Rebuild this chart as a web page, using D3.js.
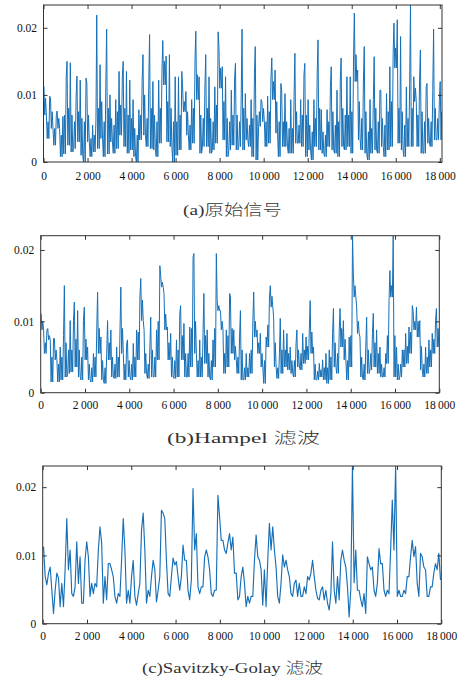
<!DOCTYPE html>
<html><head><meta charset="utf-8">
<script src="https://cdn.jsdelivr.net/npm/d3@7"></script>
<style>body{margin:0;background:#fff}</style>
</head><body>
<svg id="c" width="469" height="679"></svg>
<script>
// samples per envelope bin (each bin: max, min and top of the dense band)
const binSize = 150;
const xTicks = [0,2000,4000,6000,8000,10000,12000,14000,16000,18000];
const yTicks = [0,0.01,0.02];
const captions = ["(a)原始信号", "(b)Hampel 滤波", "(c)Savitzky-Golay 滤波"];

// (a) raw signal
const rawHi = [.0113,.0098,.0095,.0070,.0076,.0068,.0125,.0150,.0148,.0098,
.0128,.0122,.0125,.0118,.0055,.0063,.0219,.0145,.0115,.0198,
.0100,.0093,.0135,.0128,.0150,.0135,.0122,.0093,.0078,.0122,
.0160,.0117,.0190,.0120,.0122,.0137,.0181,.0158,.0160,.0127,
.0127,.0135,.0112,.0105,.0093,.0152,.0195,.0127,.0112,.0160,
.0127,.0112,.0194,.0172,.0142,.0127,.0107,.0125,.0147,.0102,
.0198,.0102,.0093,.0132,.0172,.0093,.0090,.0098,.0125,.0155,
.0137,.0117,.0107,.0102,.0093,.0098,.0162,.0093,.0130,.0147,
.0093,.0093,.0132,.0182,.0078,.0078,.0112,.0142,.0107,.0122,
.0155,.0127,.0127,.0155,.0222,.0137,.0122,.0172,.0093,.0093,
.0157,.0107,.0107,.0102,.0142,.0162,.0207,.0212,.0187,.0112,
.0117,.0234,.0127,.0122,.0167,.0112,.0117,.0107,.0198,.0093,.0120];
const rawLo = [.0070,.0035,.0050,.0025,.0050,.0008,.0012,.0025,.0015,.0020,
.0030,.0010,.0000,.0030,.0008,.0015,.0020,.0035,.0008,.0012,
.0030,.0013,.0020,.0040,.0023,.0013,.0018,.0008,.0000,.0033,
.0040,.0023,.0020,.0018,.0008,.0028,.0115,.0030,.0023,.0000,
.0010,.0018,.0075,.0040,.0018,.0028,.0093,.0013,.0023,.0023,
.0013,.0018,.0028,.0110,.0033,.0008,.0018,.0025,.0018,.0023,
.0018,.0033,.0023,.0008,.0003,.0053,.0060,.0023,.0028,.0093,
.0043,.0008,.0023,.0023,.0013,.0013,.0028,.0028,.0023,.0008,
.0018,.0003,.0023,.0018,.0013,.0008,.0023,.0018,.0013,.0008,
.0023,.0018,.0023,.0013,.0120,.0033,.0018,.0013,.0003,.0013,
.0018,.0013,.0023,.0008,.0018,.0023,.0140,.0028,.0018,.0008,
.0023,.0023,.0090,.0023,.0013,.0013,.0028,.0023,.0033,.0033,.0033];
const rawCore = [.0095,.0060,.0075,.0050,.0065,.0040,.0070,.0080,.0070,.0060,
.0075,.0065,.0060,.0070,.0035,.0040,.0080,.0090,.0060,.0080,
.0065,.0055,.0075,.0085,.0080,.0070,.0065,.0050,.0040,.0070,
.0100,.0065,.0080,.0070,.0060,.0080,.0150,.0090,.0080,.0060,
.0060,.0070,.0090,.0075,.0055,.0080,.0130,.0070,.0065,.0080,
.0065,.0060,.0085,.0140,.0090,.0065,.0060,.0070,.0070,.0060,
.0080,.0065,.0055,.0065,.0070,.0075,.0080,.0060,.0075,.0120,
.0090,.0060,.0060,.0060,.0050,.0050,.0075,.0055,.0070,.0070,
.0055,.0045,.0065,.0080,.0045,.0040,.0060,.0075,.0055,.0060,
.0080,.0070,.0070,.0075,.0160,.0090,.0065,.0075,.0045,.0050,
.0080,.0060,.0065,.0055,.0075,.0090,.0170,.0080,.0075,.0055,
.0065,.0080,.0110,.0070,.0075,.0060,.0065,.0060,.0080,.0065,.0075];

// (b) Hampel filtered
const hampelHi = [.0111,.0088,.0090,.0076,.0076,.0064,.0080,.0150,.0101,.0101,
.0127,.0115,.0101,.0120,.0064,.0055,.0088,.0141,.0078,.0055,
.0101,.0088,.0064,.0088,.0148,.0069,.0074,.0069,.0088,.0134,
.0160,.0088,.0064,.0106,.0088,.0178,.0164,.0139,.0092,.0083,
.0074,.0111,.0122,.0097,.0092,.0190,.0195,.0074,.0083,.0139,
.0088,.0074,.0195,.0129,.0115,.0088,.0139,.0134,.0088,.0078,
.0115,.0055,.0055,.0101,.0141,.0088,.0083,.0078,.0134,.0150,
.0106,.0055,.0104,.0088,.0083,.0064,.0069,.0088,.0083,.0078,
.0088,.0129,.0064,.0041,.0046,.0055,.0060,.0083,.0118,.0088,
.0118,.0101,.0078,.0220,.0167,.0120,.0078,.0064,.0106,.0083,
.0111,.0088,.0064,.0055,.0129,.0171,.0220,.0064,.0060,.0083,
.0092,.0122,.0115,.0120,.0101,.0064,.0074,.0083,.0101,.0118];
const hampelLo = [.0088,.0055,.0074,.0015,.0046,.0015,.0018,.0022,.0027,.0029,
.0036,.0022,.0018,.0046,.0018,.0015,.0022,.0055,.0018,.0013,
.0046,.0022,.0020,.0022,.0055,.0018,.0022,.0018,.0022,.0046,
.0101,.0027,.0020,.0022,.0022,.0046,.0148,.0088,.0046,.0022,
.0020,.0022,.0046,.0022,.0022,.0036,.0055,.0022,.0022,.0041,
.0022,.0018,.0036,.0115,.0088,.0027,.0036,.0055,.0046,.0027,
.0018,.0018,.0022,.0027,.0078,.0055,.0036,.0013,.0064,.0120,
.0036,.0020,.0027,.0036,.0032,.0027,.0022,.0036,.0032,.0041,
.0046,.0055,.0018,.0018,.0022,.0018,.0013,.0018,.0036,.0027,
.0064,.0046,.0018,.0036,.0134,.0083,.0022,.0018,.0027,.0032,
.0036,.0027,.0022,.0022,.0041,.0134,.0022,.0018,.0022,.0036,
.0041,.0055,.0088,.0078,.0032,.0022,.0027,.0036,.0055,.0064];
const hampelCore = [.0100,.0070,.0080,.0050,.0060,.0040,.0050,.0070,.0060,.0060,
.0075,.0060,.0050,.0075,.0040,.0035,.0050,.0090,.0045,.0035,
.0070,.0050,.0040,.0050,.0090,.0040,.0045,.0040,.0050,.0085,
.0130,.0055,.0040,.0060,.0050,.0100,.0155,.0110,.0070,.0050,
.0045,.0060,.0080,.0055,.0055,.0090,.0100,.0045,.0050,.0080,
.0055,.0045,.0090,.0122,.0100,.0055,.0080,.0090,.0065,.0050,
.0060,.0035,.0035,.0060,.0100,.0070,.0055,.0045,.0095,.0135,
.0070,.0035,.0060,.0060,.0055,.0045,.0045,.0060,.0055,.0060,
.0065,.0085,.0040,.0030,.0032,.0035,.0035,.0050,.0070,.0055,
.0090,.0075,.0045,.0080,.0150,.0100,.0050,.0040,.0060,.0055,
.0070,.0055,.0040,.0035,.0080,.0150,.0080,.0040,.0040,.0060,
.0065,.0085,.0100,.0100,.0065,.0040,.0050,.0060,.0075,.0090];

// (c) Savitzky-Golay filtered
const sgHi = [.0113,.0074,.0083,.0049,.0074,.0059,.0079,.0154,.0108,.0054,
.0120,.0098,.0093,.0120,.0059,.0059,.0108,.0142,.0069,.0088,
.0088,.0069,.0044,.0093,.0154,.0049,.0069,.0093,.0044,.0137,
.0162,.0049,.0069,.0093,.0049,.0166,.0162,.0093,.0069,.0096,
.0091,.0069,.0115,.0093,.0064,.0198,.0132,.0054,.0098,.0108,
.0079,.0049,.0188,.0157,.0122,.0118,.0132,.0127,.0074,.0069,
.0083,.0040,.0040,.0093,.0130,.0093,.0079,.0093,.0147,.0142,
.0083,.0059,.0101,.0093,.0069,.0059,.0064,.0059,.0054,.0069,
.0074,.0093,.0049,.0049,.0054,.0049,.0044,.0120,.0069,.0093,
.0108,.0083,.0049,.0232,.0108,.0049,.0044,.0098,.0088,.0083,
.0059,.0110,.0088,.0049,.0108,.0181,.0232,.0049,.0049,.0069,
.0098,.0122,.0113,.0103,.0098,.0079,.0054,.0074,.0088,.0103];
const sgLo = [.0069,.0057,.0049,.0015,.0067,.0025,.0025,.0079,.0044,.0040,
.0059,.0030,.0030,.0098,.0040,.0044,.0054,.0118,.0030,.0035,
.0079,.0040,.0030,.0040,.0108,.0030,.0030,.0040,.0027,.0059,
.0108,.0030,.0040,.0079,.0032,.0069,.0154,.0044,.0040,.0086,
.0069,.0049,.0093,.0049,.0035,.0108,.0054,.0044,.0054,.0098,
.0044,.0040,.0049,.0122,.0108,.0103,.0108,.0074,.0035,.0040,
.0059,.0025,.0030,.0040,.0098,.0079,.0027,.0025,.0108,.0108,
.0040,.0030,.0083,.0079,.0044,.0040,.0040,.0040,.0040,.0044,
.0064,.0069,.0037,.0035,.0035,.0030,.0020,.0049,.0030,.0035,
.0093,.0054,.0010,.0060,.0049,.0035,.0025,.0015,.0079,.0049,
.0040,.0088,.0049,.0040,.0044,.0108,.0040,.0040,.0040,.0044,
.0069,.0098,.0059,.0040,.0083,.0040,.0040,.0054,.0079,.0064];

const panels = [
  {hi: rawHi, lo: rawLo, core: rawCore, sw: 1.0, left: 43.5, right: 442, top: 5, bottom: 162, xMax: 18100, yMax: 0.0234,
   pad: 10, cap: captions[0], capX: 183, capLen: 99, capY: 215},
  {hi: hampelHi, lo: hampelLo, core: hampelCore, sw: 1.0, left: 40.7, right: 439.3, top: 235.7, bottom: 392.7, xMax: 18000, yMax: 0.022,
   pad: 8, cap: captions[1], capX: 167, capLen: 153, capY: 443},
  {hi: sgHi, lo: sgLo, core: null, sw: 1.15, left: 42.7, right: 441.3, top: 466, bottom: 623.7, xMax: 18000, yMax: 0.0231,
   pad: 8.5, cap: captions[2], capX: 142, capLen: 181, capY: 673}
];

const svg = d3.select("#c");
const loc = d3.formatLocale({decimal: ".", thousands: "\u2009", grouping: [3], currency: ["", ""]});
const fx = loc.format(",d");
const fy = v => v === 0 ? "0" : d3.format(".2f")(v);
const FONT = "'Liberation Serif','Times New Roman',serif";
const AX = "#333";

panels.forEach((p, k) => {
  const x = d3.scaleLinear().domain([0, p.xMax]).range([p.left, p.right]);
  const y = d3.scaleLinear().domain([0, p.yMax]).range([p.bottom, p.top]);

  const pts = [];
  const n = p.hi.length;
  for (let i = 0; i < n; i++) {
    const mid = (p.hi[i] + p.lo[i]) / 2;
    const nm = i + 1 < n ? (p.hi[i+1] + p.lo[i+1]) / 2 : mid;
    const rising = nm > mid;
    let seq;
    if (p.core) seq = rising ? [p.lo[i], p.core[i], p.lo[i], p.hi[i]] : [p.hi[i], p.lo[i], p.core[i], p.lo[i]];
    else seq = rising ? [p.lo[i], p.hi[i]] : [p.hi[i], p.lo[i]];
    seq.forEach((v, j) => pts.push([i * binSize + binSize * (j + 0.5) / seq.length, v]));
  }

  const cid = "clip" + k;
  svg.append("clipPath").attr("id", cid).append("rect")
    .attr("x", p.left).attr("y", p.top).attr("width", p.right - p.left).attr("height", p.bottom - p.top);

  svg.append("path").datum(pts)
    .attr("clip-path", `url(#${cid})`)
    .attr("fill", "none").attr("stroke", "#1770b7").attr("stroke-width", p.sw)
    .attr("stroke-linejoin", "round")
    .attr("d", d3.line().x(d => x(d[0])).y(d => y(d[1])));

  const styleAxis = g => {
    g.select(".domain").remove();
    g.selectAll("line").attr("stroke", AX);
    g.selectAll("text").attr("font-family", FONT).attr("font-size", 11.5).attr("fill", "#111");
  };

  svg.append("g").attr("transform", `translate(0,${p.bottom})`)
    .call(d3.axisBottom(x).tickValues(xTicks).tickFormat(fx).tickSizeInner(-4).tickSizeOuter(0).tickPadding(p.pad))
    .call(styleAxis);
  svg.append("g").attr("transform", `translate(0,${p.top})`)
    .call(d3.axisTop(x).tickValues(xTicks).tickFormat("").tickSizeInner(-4).tickSizeOuter(0))
    .call(styleAxis);
  svg.append("g").attr("transform", `translate(${p.left},0)`)
    .call(d3.axisLeft(y).tickValues(yTicks).tickFormat(fy).tickSizeInner(-4).tickSizeOuter(0).tickPadding(6.5))
    .call(styleAxis);
  svg.append("g").attr("transform", `translate(${p.right},0)`)
    .call(d3.axisRight(y).tickValues(yTicks).tickFormat("").tickSizeInner(-4).tickSizeOuter(0))
    .call(styleAxis);

  svg.append("rect").attr("x", p.left).attr("y", p.top)
    .attr("width", p.right - p.left).attr("height", p.bottom - p.top)
    .attr("fill", "none").attr("stroke", AX).attr("stroke-width", 1);

  svg.append("text").attr("x", p.capX).attr("y", p.capY)
    .attr("font-family", "'Liberation Serif','Noto Sans CJK SC',serif")
    .attr("font-size", 14.5).attr("font-weight", 300).attr("fill", "#333")
    .attr("textLength", p.capLen).attr("lengthAdjust", "spacingAndGlyphs")
    .text(p.cap);
});
</script>
</body></html>
